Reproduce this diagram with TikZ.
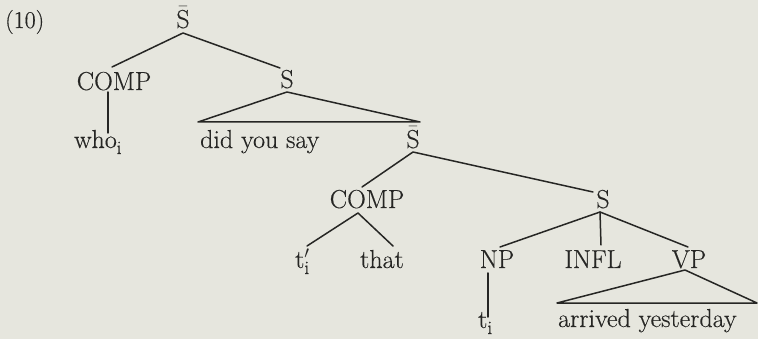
\documentclass[tikz,border=0pt]{standalone}
\usepackage{fontspec}
\setmainfont{Latin Modern Roman}[FakeBold=0.35]
\usetikzlibrary{calc}
\definecolor{bg}{RGB}{230,230,222}
\definecolor{ink}{RGB}{38,38,36}
\newcommand\subi{\raisebox{-6pt}{\fontsize{19}{20}\selectfont i}}
\begin{document}
\begin{tikzpicture}[x=1pt,y=-1pt,
  every node/.style={inner sep=0pt,text=ink,font=\fontsize{26}{30}\selectfont},
  edge/.style={draw=ink,line width=1.5pt,line cap=round,line join=round}]
\fill[bg] (0,0) rectangle (758,339);
\useasboundingbox (0,0) rectangle (758,339);
% nodes
\node[anchor=base west,font=\fontsize{24}{28}\selectfont] (num) at (5,28) {(10)};
\node[anchor=base] (sbar1) at (183,28) {$\bar{\mathrm{S}}$};
\node[anchor=base] (comp1) at (114,90) {COMP};
\node[anchor=base west] (who) at (74,148) {who\subi};
\node[anchor=base] (s1) at (287,88) {S};
\node[anchor=base west] (dys) at (200,148) {did you say};
\node[anchor=base] (sbar2) at (413,148) {$\bar{\mathrm{S}}$};
\node[anchor=base] (comp2) at (367,208) {COMP};
\node[anchor=base west] (tpi) at (295,268) {t\rlap{\subi}$'$};
\node[anchor=base] (that) at (382,268) {that};
\node[anchor=base] (s2) at (603,208) {S};
\node[anchor=base] (np) at (497,268) {NP};
\node[anchor=base] (infl) at (593,268) {INFL};
\node[anchor=base] (vp) at (689,268) {VP};
\node[anchor=base west] (ti) at (478,328) {t\subi};
\node[anchor=base west] (ay) at (558,327) {arrived yesterday};
% triangle corners
\coordinate (triAl) at (198,122);
\coordinate (triAr) at (420,122);
\coordinate (triBl) at (557,303);
\coordinate (triBr) at (757,303);
% connectors
\draw[edge] ([xshift=-2pt,yshift=23pt]comp1.base) -- ([yshift=-5pt]sbar1.base) -- ([xshift=-7pt,yshift=20pt]s1.base);
\draw[edge] ([xshift=-6pt,yshift=-2pt]comp1.base) -- ([xshift=34pt,yshift=15pt]who.base west);
\draw[edge] (triAl) -- ([yshift=-4pt]s1.base) -- (triAr) -- cycle;
\draw[edge] ([xshift=-5pt,yshift=21pt]comp2.base) -- ([yshift=-4pt]sbar2.base) -- ([xshift=-10pt,yshift=16pt]s2.base);
\draw[edge] ([xshift=12pt,yshift=22pt]tpi.base west) -- ([xshift=-9pt,yshift=-5pt]comp2.base) -- ([xshift=11pt,yshift=22pt]that.base);
\draw[edge] ([xshift=3pt,yshift=21pt]np.base) -- ([xshift=-3pt,yshift=-4pt]s2.base) -- ([xshift=-1pt,yshift=21pt]vp.base);
\draw[edge] ([xshift=-3pt,yshift=-4pt]s2.base) -- ([xshift=8pt,yshift=23pt]infl.base);
\draw[edge] ([xshift=-9pt,yshift=-5pt]np.base) -- ([xshift=10pt,yshift=11pt]ti.base west);
\draw[edge] (triBl) -- ([xshift=-4pt,yshift=-2pt]vp.base) -- (triBr) -- cycle;
\end{tikzpicture}
\end{document}
